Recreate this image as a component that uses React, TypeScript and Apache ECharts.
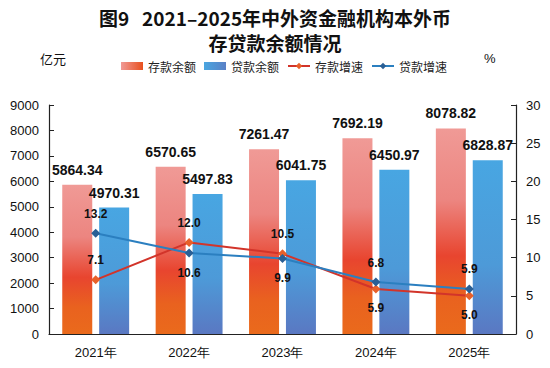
import React, { useEffect, useRef } from "react";
import * as echarts from "echarts";

const years = ["2021年", "2022年", "2023年", "2024年", "2025年"];
const depositBalance = [5864.34, 6570.65, 7261.47, 7692.19, 8078.82];
const loanBalance = [4970.31, 5497.83, 6041.75, 6450.97, 6828.87];
const depositGrowth = [7.1, 12.0, 10.5, 5.9, 5.0];
const loanGrowth = [13.2, 10.6, 9.9, 6.8, 5.9];
// label placement for each growth point
const depositLabelPos = ["top", "top", "top", "bottom", "bottom"];
const loanLabelPos = ["top", "bottom", "bottom", "top", "top"];

const numFont = "'Liberation Sans', Arial, sans-serif";
const cjkFont = "'Noto Sans CJK SC', sans-serif";

const redGrad = new echarts.graphic.LinearGradient(0, 0, 0, 1, [
  { offset: 0, color: "#f09a96" },
  { offset: 0.35, color: "#ec8580" },
  { offset: 0.62, color: "#e8452f" },
  { offset: 0.82, color: "#e9621f" },
  { offset: 1, color: "#ea6a1c" },
]);
const blueGrad = new echarts.graphic.LinearGradient(0, 0, 0, 1, [
  { offset: 0, color: "#48a6e2" },
  { offset: 0.6, color: "#4d9ad8" },
  { offset: 1, color: "#5a78c2" },
]);
const redLegend = new echarts.graphic.LinearGradient(0, 0, 1, 0, [
  { offset: 0, color: "#f09a96" },
  { offset: 1, color: "#e8501e" },
]);
const blueLegend = new echarts.graphic.LinearGradient(0, 0, 1, 0, [
  { offset: 0, color: "#4aa6e0" },
  { offset: 1, color: "#5a80c6" },
]);

export default function App() {
  const ref = useRef<HTMLDivElement>(null);

  useEffect(() => {
    if (!ref.current) return;
    const chart = echarts.init(ref.current, undefined, { renderer: "svg" });
    const barLabel = {
      show: true,
      position: "top",
      distance: 8,
      color: "#111",
      fontWeight: "bold",
      fontSize: 14,
      fontFamily: numFont,
      formatter: (p: any) => p.value.toFixed(2),
    };
    const growthLabel = {
      show: true,
      distance: 9,
      color: "#111",
      fontWeight: "bold",
      fontSize: 12,
      fontFamily: numFont,
      formatter: (p: any) => p.value.toFixed(1),
    };
    chart.setOption({
      animation: false,
      backgroundColor: "#ffffff",
      title: {
        text: "图9   2021–2025年中外资金融机构本外币\n存贷款余额情况",
        left: "center",
        top: 0,
        textStyle: {
          fontFamily: cjkFont,
          fontSize: 19,
          fontWeight: "bold",
          color: "#111",
          lineHeight: 25,
        },
      },
      graphic: [
        {
          type: "text",
          left: 40,
          top: 52,
          style: { text: "亿元", font: `13px ${cjkFont}`, fill: "#111" },
        },
        {
          type: "text",
          left: 484,
          top: 52,
          style: { text: "%", font: `13px ${numFont}`, fill: "#111" },
        },
      ],
      legend: {
        left: 116,
        top: 55,
        itemWidth: 22,
        itemHeight: 8,
        itemGap: 8,
        textStyle: { fontFamily: cjkFont, fontSize: 12, color: "#222" },
        data: [
          { name: "存款余额", icon: "rect", itemStyle: { color: redLegend } },
          { name: "贷款余额", icon: "rect", itemStyle: { color: blueLegend } },
          { name: "存款增速" },
          { name: "贷款增速" },
        ],
      },
      grid: { left: 49, right: 34, top: 105, bottom: 34 },
      xAxis: {
        type: "category",
        data: years,
        axisLine: { lineStyle: { color: "#222", width: 1.2 } },
        axisTick: { inside: true, length: 5, lineStyle: { color: "#222" } },
        axisLabel: { color: "#111", fontSize: 13, fontFamily: numFont, margin: 12 },
      },
      yAxis: [
        {
          type: "value",
          min: 0,
          max: 9000,
          interval: 1000,
          splitLine: { show: false },
          axisLine: { show: true, lineStyle: { color: "#222", width: 1.2 } },
          axisTick: { show: true, inside: true, length: 5, lineStyle: { color: "#222" } },
          axisLabel: {
            color: "#111",
            fontSize: 13,
            fontFamily: numFont,
            margin: 10,
            formatter: (v: number) => String(v),
          },
        },
        {
          type: "value",
          min: 0,
          max: 30,
          interval: 5,
          splitLine: { show: false },
          axisLine: { show: true, lineStyle: { color: "#222", width: 1.2 } },
          axisTick: { show: true, inside: true, length: 5, lineStyle: { color: "#222" } },
          axisLabel: { color: "#111", fontSize: 13, fontFamily: numFont, margin: 10 },
        },
      ],
      series: [
        {
          name: "存款余额",
          type: "bar",
          data: depositBalance,
          barWidth: 30,
          barGap: "23%",
          itemStyle: { color: redGrad },
          label: barLabel,
        },
        {
          name: "贷款余额",
          type: "bar",
          data: loanBalance,
          barWidth: 30,
          itemStyle: { color: blueGrad },
          label: barLabel,
        },
        {
          name: "存款增速",
          type: "line",
          yAxisIndex: 1,
          data: depositGrowth.map((v, i) => ({
            value: v,
            label: { position: depositLabelPos[i] },
          })),
          symbol: "diamond",
          symbolSize: 9,
          lineStyle: { color: "#d2342a", width: 2 },
          itemStyle: { color: "#e8602a" },
          label: growthLabel,
          z: 5,
        },
        {
          name: "贷款增速",
          type: "line",
          yAxisIndex: 1,
          data: loanGrowth.map((v, i) => ({
            value: v,
            label: { position: loanLabelPos[i] },
          })),
          symbol: "diamond",
          symbolSize: 9,
          lineStyle: { color: "#2b7fc0", width: 2 },
          itemStyle: { color: "#2a5f95" },
          label: growthLabel,
          z: 5,
        },
      ],
    });
    return () => chart.dispose();
  }, []);

  return <div ref={ref} style={{ width: 550, height: 368, position: "fixed", left: 0, top: 0 }} />;
}
